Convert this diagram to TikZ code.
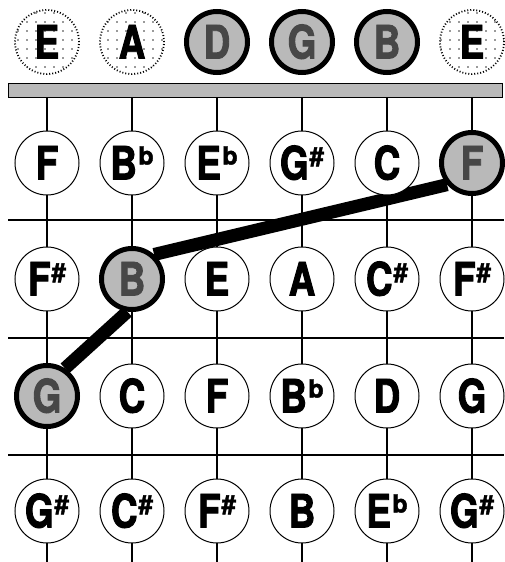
\documentclass[tikz,border=0pt]{standalone}
\usepackage{fontspec}
\setmainfont{TeX Gyre Heros}
\newfontfamily\notefont[FakeStretch=0.8,FakeBold=2]{TeX Gyre Heros}
\newfontfamily\supfont[FakeBold=1.5]{TeX Gyre Heros}
\usetikzlibrary{backgrounds,patterns.meta}
\newcommand\shp{\kern1pt\raisebox{14pt}{\supfont\bfseries\fontsize{26}{26}\selectfont\#}}
\newcommand\flt{\kern1.5pt\raisebox{15pt}{\supfont\bfseries\fontsize{25}{25}\selectfont b}}
\begin{document}
\begin{tikzpicture}[x=1pt,y=-1pt,
  note/.style={circle, minimum size=64pt, inner sep=0pt, draw=black, line width=1pt,
    fill=white, text height=33pt, text depth=0pt,
    font=\notefont\fontsize{46}{46}\selectfont\bfseries},
  hl/.style={note, fill=gray!55, line width=5pt, text=black!72, minimum size=61pt},
  opn/.style={note, dotted, line width=1.8pt,
    postaction={pattern={Dots[distance=9pt,radius=0.9pt]}, pattern color=black!80}},
  stringline/.style={line width=1.4pt, black},
  fretline/.style={line width=2pt, black},
  conn/.style={line width=13pt, black, line cap=butt},
  nutbar/.style={draw=black, line width=1pt, fill=gray!55}
]
\useasboundingbox (0,0) rectangle (504,562);
% open strings
\node[opn] (oE1) at (47,42) {E};
\node[opn] (oA)  at (132,42) {A};
\node[hl]  (oD)  at (217,42) {D};
\node[hl]  (oG)  at (302,42) {G};
\node[hl]  (oB)  at (387,42) {B};
\node[opn] (oE2) at (472,42) {E};
% row 1
\node[note] (r1c1) at (47,163) {F};
\node[note] (r1c2) at (132,163) {B\flt};
\node[note] (r1c3) at (217,163) {E\flt};
\node[note] (r1c4) at (302,163) {G\shp};
\node[note] (r1c5) at (387,163) {C};
\node[hl]   (r1c6) at (472,163) {F};
% row 2
\node[note] (r2c1) at (47,279) {F\shp};
\node[hl]   (r2c2) at (132,279) {B};
\node[note] (r2c3) at (217,279) {E};
\node[note] (r2c4) at (302,279) {A};
\node[note] (r2c5) at (387,279) {C\shp};
\node[note] (r2c6) at (472,279) {F\shp};
% row 3
\node[hl]   (r3c1) at (47,396) {G};
\node[note] (r3c2) at (132,396) {C};
\node[note] (r3c3) at (217,396) {F};
\node[note] (r3c4) at (302,396) {B\flt};
\node[note] (r3c5) at (387,396) {D};
\node[note] (r3c6) at (472,396) {G};
% row 4
\node[note] (r4c1) at (47,511) {G\shp};
\node[note] (r4c2) at (132,511) {C\shp};
\node[note] (r4c3) at (217,511) {F\shp};
\node[note] (r4c4) at (302,511) {B};
\node[note] (r4c5) at (387,511) {E\flt};
\node[note] (r4c6) at (472,511) {G\shp};
\begin{scope}[on background layer]
  \foreach \x in {47,132,217,302,387,472}
    \draw[stringline] (\x,97) -- (\x,562);
  \foreach \y in {220,338,455}
    \draw[fretline] (8,\y) -- (504,\y);
  \draw[nutbar] (8,83) rectangle (502,97);
  \draw[conn] (r3c1.57) -- (r2c2.262);
  \draw[conn] (r2c2.48) -- (r1c6.221);
\end{scope}
\end{tikzpicture}
\end{document}
